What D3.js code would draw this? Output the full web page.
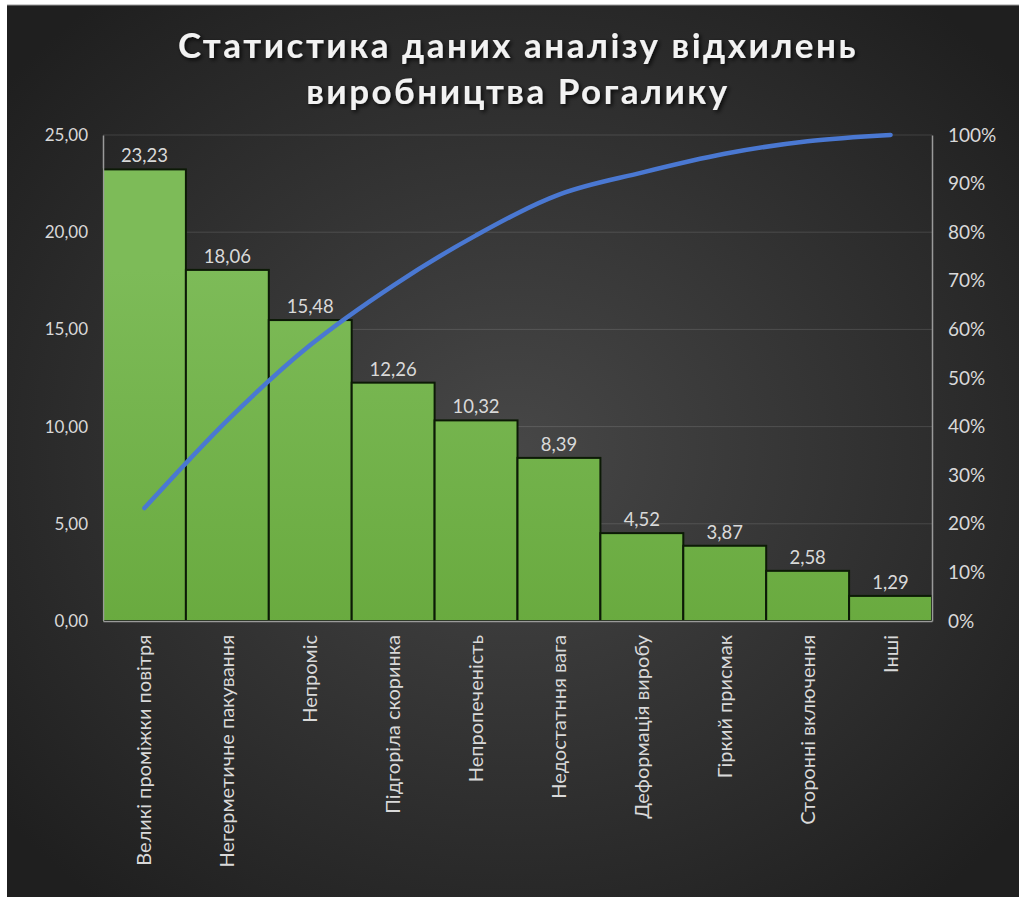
<!DOCTYPE html>
<html>
<head>
<meta charset="utf-8">
<style>
    body { margin: 0; background: #ffffff; }
    .tick text { fill: #d9d9d9; font-family: Lato, "Open Sans", sans-serif; font-size: 17px; }
    .axis .domain { stroke: #9a9a9a; stroke-width: 1.5px; }
    .grid line { stroke: rgba(255,255,255,0.13); stroke-width: 1px; }
</style>
</head>
<body>
<script src="https://cdn.jsdelivr.net/npm/d3@7"></script>
<script>
    // Categories and counts (per cent of defects)
    var categories = ["Великі проміжки повітря", "Негерметичне пакування", "Непроміс", "Підгоріла скоринка",
        "Непропеченість", "Недостатння вага", "Деформація виробу", "Гіркий присмак", "Сторонні включення", "Інші"];
    var values = [23.23, 18.06, 15.48, 12.26, 10.32, 8.39, 4.52, 3.87, 2.58, 1.29];
    var leftTicks = [0, 5, 10, 15, 20, 25];
    var rightTicks = [0, 0.1, 0.2, 0.3, 0.4, 0.5, 0.6, 0.7, 0.8, 0.9, 1];
    var titleLines = ["Статистика даних аналізу відхилень", "виробництва Рогалику"];

    var W = 1019, H = 897;
    var margin = { top: 135, right: 87, bottom: 276, left: 103 },
        width = W - margin.left - margin.right,
        height = H - margin.top - margin.bottom;

    var ua = d3.formatLocale({ decimal: ",", thousands: " ", grouping: [3], currency: ["", " ₴"] });
    var fmt2 = ua.format(".2f");
    var fmtPct = ua.format(".0%");

    // cumulative share
    var total = d3.sum(values);
    var cum = [];
    values.reduce(function (acc, v, i) { cum[i] = (acc + v) / total; return acc + v; }, 0);

    var svg = d3.select("body").append("svg")
        .attr("width", W)
        .attr("height", H);

    var defs = svg.append("defs");
    var bg = defs.append("radialGradient").attr("id", "bg")
        .attr("cx", "50%").attr("cy", "50%").attr("r", "65%");
    bg.append("stop").attr("offset", "0%").attr("stop-color", "#474747");
    bg.append("stop").attr("offset", "100%").attr("stop-color", "#1f1f1f");

    var barGrad = defs.append("linearGradient").attr("id", "barGrad")
        .attr("gradientUnits", "userSpaceOnUse")
        .attr("x1", 0).attr("y1", margin.top).attr("x2", 0).attr("y2", margin.top + height);
    barGrad.append("stop").attr("offset", "0%").attr("stop-color", "#7dbb58");
    barGrad.append("stop").attr("offset", "100%").attr("stop-color", "#62a436");

    var shadow = defs.append("filter").attr("id", "shadow")
        .attr("x", "-10%").attr("y", "-30%").attr("width", "120%").attr("height", "160%");
    shadow.append("feDropShadow").attr("dx", 2).attr("dy", 2).attr("stdDeviation", 2)
        .attr("flood-color", "#000").attr("flood-opacity", 0.8);

    svg.append("rect")
        .attr("x", 7).attr("y", 5)
        .attr("width", W - 7).attr("height", H - 5)
        .attr("fill", "url(#bg)");
    svg.append("line")
        .attr("x1", 7).attr("x2", W).attr("y1", 5).attr("y2", 5)
        .attr("stroke", "#9a9a9a").attr("stroke-width", 1);

    // Title
    svg.append("g").selectAll("text")
        .data(titleLines)
        .enter().append("text")
        .attr("x", 518)
        .attr("y", function (d, i) { return 58 + i * 46; })
        .attr("text-anchor", "middle")
        .attr("filter", "url(#shadow)")
        .style("font-family", "Lato, 'Open Sans', sans-serif")
        .style("font-weight", "bold")
        .style("font-size", "35px")
        .style("letter-spacing", "2.5px")
        .style("fill", "#f2f2f2")
        .text(function (d) { return d; });

    var g = svg.append("g")
        .attr("transform", "translate(" + margin.left + "," + margin.top + ")");

    var x = d3.scaleBand().domain(categories).range([0, width]).padding(0);
    var y = d3.scaleLinear().domain([0, 25]).range([height, 0]);
    var y2 = d3.scaleLinear().domain([0, 1]).range([height, 0]);

    // grid
    g.append("g").attr("class", "grid")
        .selectAll("line")
        .data(leftTicks.slice(1))
        .enter().append("line")
        .attr("x1", 0).attr("x2", width)
        .attr("y1", function (d) { return y(d); })
        .attr("y2", function (d) { return y(d); });

    // bars
    g.append("g").selectAll("rect")
        .data(values)
        .enter().append("rect")
        .attr("x", function (d, i) { return x(categories[i]); })
        .attr("y", function (d) { return y(d); })
        .attr("width", x.bandwidth())
        .attr("height", function (d) { return height - y(d); })
        .attr("fill", "url(#barGrad)")
        .attr("stroke", "#0c1a06")
        .attr("stroke-width", 2);

    // data labels
    g.append("g").selectAll("text")
        .data(values)
        .enter().append("text")
        .attr("x", function (d, i) { return x(categories[i]) + x.bandwidth() / 2; })
        .attr("y", function (d) { return y(d) - 7; })
        .attr("text-anchor", "middle")
        .style("font-family", "Lato, 'Open Sans', sans-serif")
        .style("font-size", "18.5px")
        .style("fill", "#d9d9d9")
        .text(function (d) { return fmt2(d); });

    // axes
    var yAxis = g.append("g").attr("class", "axis")
        .call(d3.axisLeft(y).tickValues(leftTicks).tickFormat(fmt2).tickSize(0).tickPadding(15));
    var yAxis2 = g.append("g").attr("class", "axis")
        .attr("transform", "translate(" + width + ",0)")
        .call(d3.axisRight(y2).tickValues(rightTicks).tickFormat(fmtPct).tickSize(0).tickPadding(16));
    yAxis2.selectAll("text").style("font-size", "19px");

    var xAxis = g.append("g").attr("class", "axis")
        .attr("transform", "translate(0," + height + ")")
        .call(d3.axisBottom(x).tickSize(0).tickPadding(0));
    xAxis.selectAll("text")
        .attr("transform", "rotate(-90)")
        .attr("x", -14)
        .attr("y", 0)
        .attr("dy", "0.35em")
        .style("text-anchor", "end")
        .style("font-size", "20px");

    // cumulative line
    var line = d3.line()
        .x(function (d, i) { return x(categories[i]) + x.bandwidth() / 2; })
        .y(function (d) { return y2(d); })
        .curve(d3.curveCatmullRom.alpha(0));

    g.append("path")
        .datum(cum)
        .attr("fill", "none")
        .attr("stroke", "#4a78d2")
        .attr("stroke-width", 4.5)
        .attr("stroke-linecap", "round")
        .attr("d", line);
</script>
</body>
</html>
